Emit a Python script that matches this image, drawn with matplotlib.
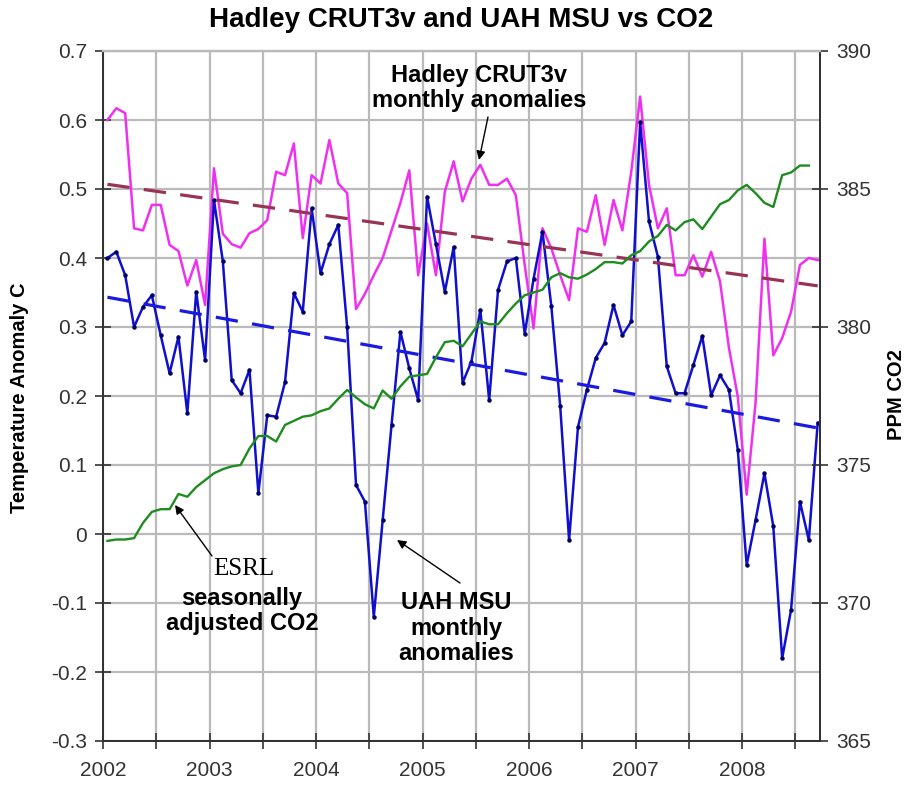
# plot.py
# Hadley CRUT3v and UAH MSU monthly anomalies vs ESRL CO2, Jan 2002 - Sep 2008

import matplotlib
matplotlib.use("Agg")
import matplotlib.pyplot as plt
import numpy as np

# monthly anomalies, deg C, Jan 2002 .. Sep 2008 (81 months)
hadley = [
    0.600, 0.617, 0.610, 0.443, 0.440, 0.477, 0.477, 0.419, 0.410, 0.360, 0.397, 0.332,
    0.530, 0.435, 0.420, 0.415, 0.436, 0.442, 0.455, 0.525, 0.520, 0.566, 0.429, 0.520,
    0.508, 0.571, 0.508, 0.494, 0.326, 0.348, 0.375, 0.400, 0.440, 0.480, 0.527, 0.375,
    0.450, 0.375, 0.496, 0.540, 0.482, 0.515, 0.535, 0.506, 0.506, 0.515, 0.491, 0.390,
    0.298, 0.443, 0.414, 0.375, 0.339, 0.443, 0.438, 0.491, 0.419, 0.484, 0.440, 0.525,
    0.634, 0.506, 0.443, 0.472, 0.375, 0.375, 0.404, 0.373, 0.409, 0.366, 0.270, 0.199,
    0.057, 0.190, 0.428, 0.259, 0.284, 0.322, 0.390, 0.400, 0.397,
]
uah = [
    0.400, 0.409, 0.375, 0.300, 0.329, 0.346, 0.288, 0.233, 0.286, 0.175, 0.351, 0.252,
    0.484, 0.395, 0.223, 0.204, 0.238, 0.059, 0.172, 0.170, 0.220, 0.349, 0.322, 0.472,
    0.378, 0.420, 0.448, 0.300, 0.071, 0.047, -0.120, 0.020, 0.158, 0.293, 0.240, 0.194,
    0.489, 0.420, 0.351, 0.416, 0.219, 0.250, 0.325, 0.194, 0.354, 0.395, 0.400, 0.290,
    0.370, 0.438, 0.330, 0.185, -0.009, 0.155, 0.209, 0.255, 0.277, 0.332, 0.288, 0.308,
    0.597, 0.453, 0.402, 0.243, 0.204, 0.204, 0.245, 0.287, 0.201, 0.230, 0.209, 0.122,
    -0.045, 0.020, 0.088, 0.011, -0.180, -0.110, 0.047, -0.009, 0.161,
]
# ESRL seasonally adjusted CO2, ppm, Jan 2002 .. Aug 2008 (80 months)
co2 = [
    372.25, 372.30, 372.30, 372.35, 372.90, 373.30, 373.40, 373.40, 373.95, 373.85, 374.20, 374.45,
    374.70, 374.85, 374.95, 375.00, 375.60, 376.05, 376.05, 375.85, 376.45, 376.60, 376.75, 376.80,
    376.95, 377.05, 377.40, 377.72, 377.45, 377.20, 377.05, 377.70, 377.40, 377.85, 378.20, 378.25,
    378.30, 378.90, 379.45, 379.50, 379.30, 379.75, 380.20, 380.10, 380.10, 380.50, 380.85, 381.15,
    381.25, 381.35, 381.80, 381.95, 381.80, 381.75, 381.90, 382.10, 382.35, 382.35, 382.30, 382.60,
    382.75, 383.10, 383.30, 383.70, 383.50, 383.80, 383.90, 383.55, 384.00, 384.45, 384.60, 384.95,
    385.15, 384.85, 384.50, 384.35, 385.50, 385.60, 385.85, 385.85,
]

years = [2002, 2003, 2004, 2005, 2006, 2007, 2008]
temp_ticks = [-0.3, -0.2, -0.1, 0.0, 0.1, 0.2, 0.3, 0.4, 0.5, 0.6, 0.7]
temp_labels = ["-0.3", "-0.2", "-0.1", "0", "0.1", "0.2", "0.3", "0.4", "0.5", "0.6", "0.7"]
co2_ticks = [365, 370, 375, 380, 385, 390]

W, H = 908, 786
GRID = "#bababa"


def px(x, y):
    # reference pixel -> figure fraction
    return x / W, 1 - y / H


def main():
    plt.rcParams["font.family"] = ["Liberation Sans", "DejaVu Sans"]

    months = 2002 + (np.arange(len(hadley)) + 0.5) / 12
    months_co2 = months[:len(co2)]
    half_years = [y + 0.5 for y in years]

    fig = plt.figure(figsize=(W / 100, H / 100), dpi=100)
    left, right, top, bottom = 103, 820, 51, 741
    ax = fig.add_axes([left / W, 1 - bottom / H, (right - left) / W, (bottom - top) / H])
    ax2 = ax.twinx()

    ax.set_xlim(2002, 2008.73)
    ax.set_ylim(-0.3, 0.7)
    ax2.set_ylim(365, 390)

    ax.set_xticks(years)
    ax.set_xticklabels([str(y) for y in years])
    ax.set_xticks(half_years, minor=True)
    ax.set_yticks(temp_ticks)
    ax.set_yticklabels(temp_labels)
    ax2.set_yticks(co2_ticks)

    for a in (ax, ax2):
        a.tick_params(which="both", direction="inout", length=11, width=1.2,
                      colors="#333333", labelsize=15)
        a.spines["top"].set_color(GRID)
        a.spines["top"].set_linewidth(1.6)
        for s in ("left", "right", "bottom"):
            a.spines[s].set_color("#333333")
            a.spines[s].set_linewidth(1.4)
    ax.tick_params(axis="x", which="both", pad=9)
    ax.tick_params(axis="y", pad=6)
    ax2.tick_params(axis="y", pad=6)

    # grid lines at the tick positions
    for xv in years + half_years:
        ax.axvline(xv, color=GRID, lw=1.6, zorder=1)
    for yv in temp_ticks:
        ax.axhline(yv, color=GRID, lw=1.6, zorder=1)

    # series
    ax.plot(months, hadley, color="#f030f0", lw=1.8, zorder=3)
    ax.plot(months, uah, color="#1010cc", lw=1.8, marker="o", ms=2.2,
            mfc="#000066", mec="#000066", zorder=4)

    # linear trends
    for series, col in ((hadley, "#993355"), (uah, "#1a1ae0")):
        k, b = np.polyfit(months, series, 1)
        ends = np.array([months[0], months[-1]])
        ax.plot(ends, k * ends + b, color=col, lw=2.3, dashes=(7, 4.5), zorder=5)

    ax2.plot(months_co2, co2, color="#1e8c1e", lw=1.7, zorder=3)

    # titles and labels
    fig.text(*px(461, 20), "Hadley CRUT3v and UAH MSU vs CO2", ha="center", va="center",
             fontsize=20, fontweight="bold")
    fig.text(*px(20, 398), "Temperature Anomaly C", rotation=90, ha="center", va="center",
             fontsize=14.5, fontweight="bold")
    fig.text(*px(897, 395), "PPM CO2", rotation=90, ha="center", va="center",
             fontsize=14.5, fontweight="bold")

    # annotations
    arrow = dict(arrowstyle="-|>", color="black", lw=1.0, mutation_scale=13,
                 shrinkA=0, shrinkB=0)
    fig.text(*px(479, 88), "Hadley CRUT3v\nmonthly anomalies", ha="center", va="center",
             fontsize=17, fontweight="bold", linespacing=1.15)
    ax.annotate("", xy=px(479, 160), xycoords="figure fraction",
                xytext=px(488, 117), textcoords="figure fraction", arrowprops=arrow)

    fig.text(*px(244, 569), "ESRL", ha="center", va="center", fontsize=18,
             family="Liberation Serif")
    fig.text(*px(242, 611), "seasonally\nadjusted CO2", ha="center", va="center",
             fontsize=17, fontweight="bold", linespacing=1.15)
    ax.annotate("", xy=px(175, 505), xycoords="figure fraction",
                xytext=px(212, 556), textcoords="figure fraction", arrowprops=arrow)

    fig.text(*px(456, 628), "UAH MSU\nmonthly\nanomalies", ha="center", va="center",
             fontsize=17, fontweight="bold", linespacing=1.15)
    ax.annotate("", xy=px(397, 540), xycoords="figure fraction",
                xytext=px(460, 583), textcoords="figure fraction", arrowprops=arrow)

    fig.savefig("out.png", dpi=100)
    plt.close(fig)


if __name__ == "__main__":
    main()
